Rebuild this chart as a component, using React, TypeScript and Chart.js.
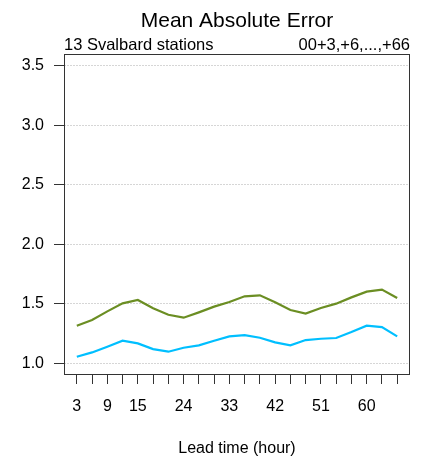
import React, { useEffect, useRef } from "react";
import { Chart, registerables } from "chart.js";

Chart.register(...registerables);

const leadTimes = [3, 6, 9, 12, 15, 18, 21, 24, 27, 30, 33, 36, 39, 42, 45, 48, 51, 54, 57, 60, 63, 66];
const greenSeries = [1.315, 1.362, 1.435, 1.503, 1.531, 1.461, 1.407, 1.382, 1.427, 1.475, 1.514, 1.562, 1.570, 1.511, 1.447, 1.416, 1.463, 1.500, 1.553, 1.601, 1.618, 1.548];
const blueSeries = [1.053, 1.090, 1.138, 1.188, 1.166, 1.118, 1.096, 1.129, 1.149, 1.188, 1.225, 1.236, 1.213, 1.174, 1.149, 1.194, 1.205, 1.211, 1.261, 1.315, 1.303, 1.225];
const xLabelled = [3, 9, 15, 24, 33, 42, 51, 60];
const yTicks = [1.0, 1.5, 2.0, 2.5, 3.0, 3.5];

const titleText = "Mean Absolute Error";
const subLeft = "13 Svalbard stations";
const subRight = "00+3,+6,...,+66";
const xTitle = "Lead time (hour)";

const FONT = "'Liberation Sans', Arial, Helvetica, sans-serif";

const textPlugin = {
  id: "texts",
  afterDraw(chart: any) {
    const { ctx, chartArea } = chart;
    const { left, right, top, bottom } = chartArea;
    ctx.save();
    ctx.strokeStyle = "#333333";
    ctx.lineWidth = 1;
    ctx.strokeRect(left + 0.5, top + 0.5, right - left - 1, bottom - top - 1);
    ctx.fillStyle = "#000000";
    ctx.textBaseline = "alphabetic";
    ctx.font = `21px ${FONT}`;
    ctx.textAlign = "center";
    ctx.fillText(titleText, (left + right) / 2, 27);
    ctx.font = `16.5px ${FONT}`;
    ctx.textAlign = "left";
    ctx.fillText(subLeft, left, 50);
    ctx.textAlign = "right";
    ctx.fillText(subRight, right, 50);
    ctx.font = `16px ${FONT}`;
    ctx.textAlign = "center";
    ctx.fillText(xTitle, (left + right) / 2, 453);
    ctx.restore();
  },
};

export default function App() {
  const ref = useRef<HTMLCanvasElement | null>(null);
  useEffect(() => {
    if (!ref.current) return;
    const chart = new Chart(ref.current, {
      type: "line",
      data: {
        labels: leadTimes,
        datasets: [
          {
            data: leadTimes.map((x, i) => ({ x, y: greenSeries[i] })),
            borderColor: "#6B8E23",
            borderWidth: 2.2,
            pointRadius: 0,
            tension: 0,
            fill: false,
          },
          {
            data: leadTimes.map((x, i) => ({ x, y: blueSeries[i] })),
            borderColor: "#00BFFF",
            borderWidth: 2.2,
            pointRadius: 0,
            tension: 0,
            fill: false,
          },
        ],
      },
      options: {
        responsive: false,
        animation: false,
        layout: { padding: { top: 54, right: 18, left: 0, bottom: 0 } },
        plugins: {
          legend: { display: false },
          title: { display: false },
          tooltip: { enabled: false },
        },
        scales: {
          x: {
            type: "linear",
            min: 0.48,
            max: 68.52,
            afterBuildTicks: (s: any) => {
              s.ticks = leadTimes.map((v) => ({ value: v }));
            },
            afterFit: (s: any) => {
              s.height = 87;
            },
            ticks: {
              autoSkip: false,
              maxRotation: 0,
              padding: 13,
              color: "#000000",
              font: { family: FONT, size: 16 },
              callback: (v: any) => (xLabelled.includes(Number(v)) ? String(v) : ""),
            },
            grid: {
              drawOnChartArea: false,
              drawTicks: true,
              tickLength: 9,
              tickColor: "#333333",
              tickWidth: 1,
            },
            border: { display: false },
          },
          y: {
            type: "linear",
            min: 0.9,
            max: 3.6,
            afterBuildTicks: (s: any) => {
              s.ticks = yTicks.map((v) => ({ value: v }));
            },
            afterFit: (s: any) => {
              s.width = 64;
            },
            ticks: {
              padding: 10,
              color: "#000000",
              font: { family: FONT, size: 16 },
              callback: (v: any) => Number(v).toFixed(1),
            },
            grid: {
              drawOnChartArea: true,
              color: "#d6d6d6",
              lineWidth: 1,
              drawTicks: true,
              tickLength: 10,
              tickColor: "#333333",
              tickWidth: 1,
              tickBorderDash: [],
            },
            border: { display: false, dash: [2, 1] },
          },
        },
      },
      plugins: [textPlugin],
    });
    return () => chart.destroy();
  }, []);
  return (
    <div style={{ position: "fixed", left: 0, top: 0, width: 428, height: 462, background: "#ffffff" }}>
      <canvas ref={ref} width={428} height={462} style={{ width: 428, height: 462, display: "block" }} />
    </div>
  );
}
